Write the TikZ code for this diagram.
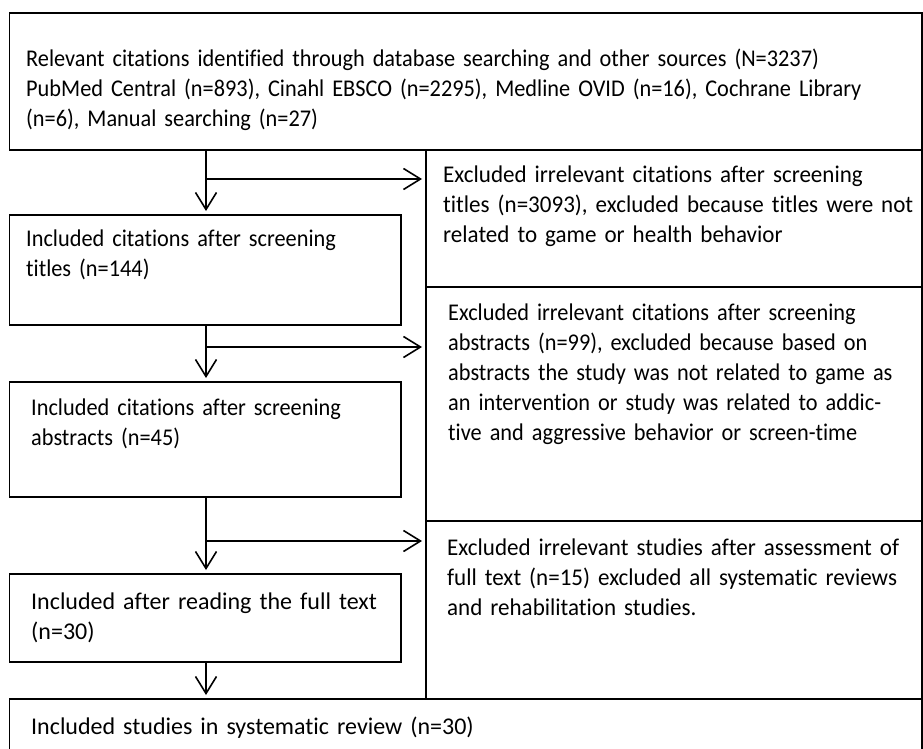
\documentclass[tikz,border=0pt]{standalone}
\usepackage{fontspec}
\setmainfont[Ligatures=NoCommon,FakeStretch=0.93]{Carlito}
\newfontfamily\midfont[Ligatures=NoCommon,FakeStretch=0.96]{Carlito}
\newfontfamily\widefont[Ligatures=NoCommon]{Carlito}
\usetikzlibrary{arrows.meta,positioning}

\begin{document}
\begin{tikzpicture}[x=1pt,y=-1pt,
		box/.style={draw,line width=1.6pt,anchor=north west,inner sep=0pt,outer sep=0pt},
		txt/.style={anchor=base west,inner sep=0pt,text width=900pt,align=left,font=\fontsize{24}{30}\selectfont},
		midtxt/.style={txt,font=\midfont\fontsize{24}{30}\selectfont},
		widetxt/.style={txt,font=\widefont\fontsize{24}{30}\selectfont},
		flow/.style={line width=1.6pt,shorten >=4pt,-{Straight Barb[length=17pt,width=21pt]}}]
		\useasboundingbox (0,0) rectangle (923,749);
		\node[box,minimum width=912.5pt,minimum height=137pt,label={[txt,xshift=16.5pt,yshift=-54pt]north west:{Relevant citations identified through database searching and other sources (N=3237)\\PubMed Central (n=893), Cinahl EBSCO (n=2295), Medline OVID (n=16), Cochrane Library\\(n=6), Manual searching (n=27)}}] (src) at (9.5,13) {};
		\node[box,minimum width=391.5pt,minimum height=110pt,label={[txt,xshift=16.5pt,yshift=-31pt]north west:{Included citations after screening\\titles (n=144)}}] (inc1) at (9.5,215) {};
		\node[box,minimum width=391.5pt,minimum height=115pt,label={[txt,xshift=21.5pt,yshift=-33pt]north west:{Included citations after screening\\abstracts (n=45)}}] (inc2) at (9.5,382) {};
		\node[box,minimum width=391.5pt,minimum height=88pt,label={[widetxt,xshift=21.5pt,yshift=-35pt]north west:{Included after reading the full text\\(n=30)}}] (inc3) at (9.5,574) {};
		\node[box,minimum width=912.5pt,minimum height=71pt,label={[widetxt,xshift=21.5pt,yshift=-35pt]north west:{Included studies in systematic review (n=30)}}] (fin) at (9.5,699) {};
		\node[box,minimum width=496pt,minimum height=137pt,label={[midtxt,xshift=17pt,yshift=-32pt]north west:{Excluded irrelevant citations after screening\\titles (n=3093), excluded because titles were not\\related to game or health behavior}}] (exc1) at (426,150) {};
		\node[box,minimum width=496pt,minimum height=234pt,label={[txt,xshift=22pt,yshift=-33pt]north west:{Excluded irrelevant citations after screening\\abstracts (n=99), excluded because based on\\abstracts the study was not related to game as\\an intervention or study was related to addic-\\tive and aggressive behavior or screen-time}}] (exc2) at (426,287) {};
		\node[box,minimum width=496pt,minimum height=178pt,label={[midtxt,xshift=21pt,yshift=-34pt]north west:{Excluded irrelevant studies after assessment of\\full text (n=15) excluded all systematic reviews\\and rehabilitation studies.}}] (exc3) at (426,521) {};
		\coordinate (spine) at (206,0);
		\coordinate (j1) at (206,179);
		\coordinate (j2) at (206,347);
		\coordinate (j3) at (206,541);
		\draw[flow] (src.south -| spine) -- (inc1.north -| spine);
		\draw[flow] (inc1.south -| spine) -- (inc2.north -| spine);
		\draw[flow] (inc2.south -| spine) -- (inc3.north -| spine);
		\draw[flow] (inc3.south -| spine) -- (fin.north -| spine);
		\draw[flow] (j1) -- (j1 -| exc1.west);
		\draw[flow] (j2) -- (j2 -| exc2.west);
		\draw[flow] (j3) -- (j3 -| exc3.west);
	\end{tikzpicture}
\end{document}
